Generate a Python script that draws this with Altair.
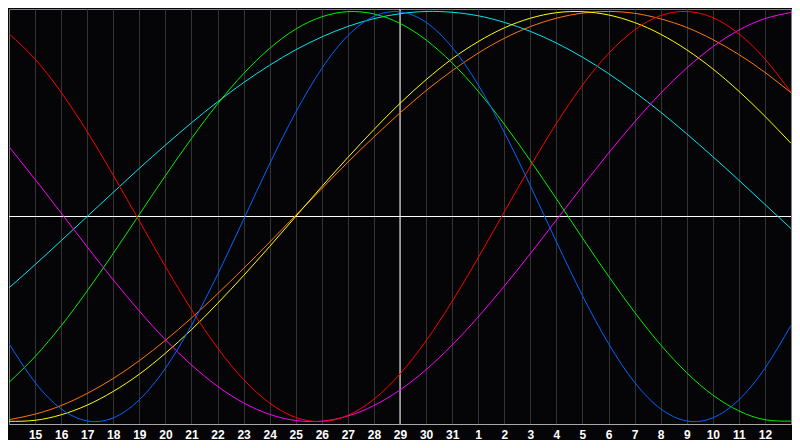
import altair as alt
import pandas as pd

# Day labels along the bottom (index 0 = left edge, index 30 = right edge)
day_labels = ["14", "15", "16", "17", "18", "19", "20", "21", "22", "23", "24",
              "25", "26", "27", "28", "29", "30", "31", "1", "2", "3", "4",
              "5", "6", "7", "8", "9", "10", "11", "12", "13"]

# Cycle values read per day (range -1 .. 1)
cycle_23 = [-0.620, -0.809, -0.938, -0.997, -0.982, -0.894, -0.740, -0.531, -0.283, -0.014,
            0.257, 0.508, 0.722, 0.882, 0.976, 0.998, 0.947, 0.825, 0.642, 0.411,
            0.150, -0.123, -0.386, -0.620, -0.809, -0.938, -0.997, -0.982, -0.894, -0.740, -0.531]
cycle_28 = [0.891, 0.768, 0.606, 0.414, 0.201, -0.022, -0.244, -0.454, -0.641, -0.795,
            -0.910, -0.980, -1.000, -0.970, -0.891, -0.768, -0.606, -0.414, -0.201, 0.022,
            0.244, 0.454, 0.641, 0.795, 0.910, 0.980, 1.000, 0.970, 0.891, 0.768, 0.606]
cycle_33 = [-0.809, -0.683, -0.533, -0.363, -0.180, 0.010, 0.199, 0.380, 0.549, 0.697,
            0.820, 0.914, 0.974, 0.999, 0.988, 0.942, 0.861, 0.749, 0.611, 0.450,
            0.273, 0.086, -0.105, -0.291, -0.467, -0.626, -0.762, -0.871, -0.948, -0.991, -0.998]
cycle_38 = [0.340, 0.181, 0.017, -0.148, -0.309, -0.461, -0.601, -0.724, -0.828, -0.909,
            -0.965, -0.995, -0.998, -0.973, -0.922, -0.846, -0.747, -0.627, -0.490, -0.340,
            -0.181, -0.017, 0.148, 0.309, 0.461, 0.601, 0.724, 0.828, 0.909, 0.965, 0.995]
cycle_43 = [-0.999, -0.994, -0.967, -0.920, -0.853, -0.769, -0.667, -0.552, -0.424, -0.288,
            -0.146, 0.000, 0.146, 0.288, 0.424, 0.552, 0.667, 0.769, 0.853, 0.920,
            0.967, 0.994, 0.999, 0.983, 0.946, 0.889, 0.813, 0.720, 0.611, 0.489, 0.357]
cycle_48 = [-0.991, -0.964, -0.922, -0.863, -0.790, -0.703, -0.604, -0.495, -0.377, -0.253,
            -0.125, 0.006, 0.136, 0.265, 0.388, 0.505, 0.614, 0.711, 0.797, 0.869,
            0.926, 0.967, 0.992, 1.000, 0.991, 0.964, 0.922, 0.863, 0.790, 0.703, 0.604]
cycle_53 = [-0.348, -0.235, -0.118, 0.000, 0.118, 0.235, 0.348, 0.457, 0.559, 0.653,
            0.738, 0.813, 0.876, 0.927, 0.965, 0.989, 1.000, 0.996, 0.979, 0.947,
            0.903, 0.846, 0.777, 0.697, 0.607, 0.509, 0.403, 0.292, 0.177, 0.059, -0.059]

series_names = ["53", "48", "43", "38", "33", "28", "23"]
series_values = [cycle_53, cycle_48, cycle_43, cycle_38, cycle_33, cycle_28, cycle_23]
series_colors = ["#00e8f0", "#ff7800", "#ffff00", "#ff00ff", "#00f000", "#ff0000", "#0066ff"]

today_index = [15]
zero_level = [0]

rows = []
for name, vals in zip(series_names, series_values):
    for i, v in enumerate(vals):
        rows.append({"idx": i, "value": v, "series": name})
df = pd.DataFrame(rows)

label_js = "[" + ",".join("'" + d + "'" for d in day_labels) + "]"

x_scale = alt.Scale(domain=[0, len(day_labels) - 1], nice=False, zero=False)
y_scale = alt.Scale(domain=[-1.012, 1.012], nice=False, zero=False)

x_axis = alt.Axis(
    values=list(range(1, len(day_labels) - 1)),
    labelExpr=label_js + "[datum.value]",
    grid=True, gridColor="#343434", gridWidth=1,
    ticks=False, domain=True, domainColor="#a8a8a8", domainWidth=1,
    labelColor="white", labelFont="Liberation Sans", labelFontWeight="bold",
    labelFontSize=12, labelPadding=5, labelFlush=False, labelOverlap=False,
    title=None,
)

lines = alt.Chart(df).mark_line(strokeWidth=1, interpolate="natural", clip=True).encode(
    x=alt.X("idx:Q", scale=x_scale, axis=x_axis),
    y=alt.Y("value:Q", scale=y_scale, axis=None),
    color=alt.Color("series:N", scale=alt.Scale(domain=series_names, range=series_colors), legend=None),
    order=alt.Order("idx:Q"),
)

hrule = alt.Chart(pd.DataFrame({"v": zero_level})).mark_rule(color="white", strokeWidth=1).encode(
    y=alt.Y("v:Q", scale=y_scale, axis=None)
)
vrule = alt.Chart(pd.DataFrame({"c": today_index})).mark_rule(color="white", strokeWidth=1).encode(
    x=alt.X("c:Q", scale=x_scale, axis=x_axis)
)

chart = alt.layer(hrule, vrule, lines).properties(
    width=784, height=432,
    autosize=alt.AutoSizeParams(type="fit", contains="padding"),
    padding=0,
    background="#050407",
).configure_view(stroke="#808080", strokeWidth=1, fill="#050407")

chart.save("out.html", embed_options={"renderer": "svg", "actions": False})
